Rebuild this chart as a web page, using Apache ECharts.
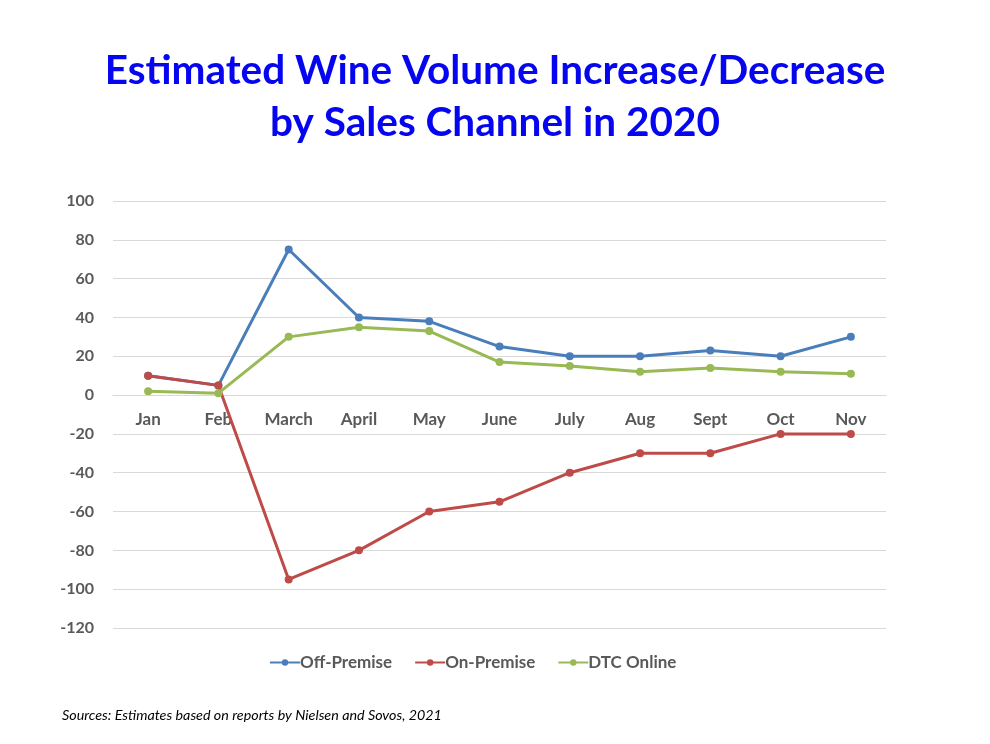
<!DOCTYPE html>
<html>
<head>
<meta charset="utf-8">
<script src="https://cdn.jsdelivr.net/npm/echarts@6/dist/echarts.min.js"></script>
<style>
  html, body { margin: 0; padding: 0; background: #fff; }
  #chart { width: 990px; height: 744px; }
</style>
</head>
<body>
<div id="chart"></div>
<script>
// Months of 2020
const months = ['Jan', 'Feb', 'March', 'April', 'May', 'June', 'July', 'Aug', 'Sept', 'Oct', 'Nov'];

// Estimated % change in wine volume per channel
const offPremise = [10, 5, 75, 40, 38, 25, 20, 20, 23, 20, 30];
const onPremise  = [10, 5, -95, -80, -60, -55, -40, -30, -30, -20, -20];
const dtcOnline  = [2, 1, 30, 35, 33, 17, 15, 12, 14, 12, 11];

const seriesNames = ['Off-Premise', 'On-Premise', 'DTC Online'];
const seriesColors = ['#4a7ebb', '#be4b48', '#98b954'];

const yMin = -120, yMax = 100, yStep = 20;

const gridTop = 201, gridBottom = 116, chartHeight = 744;
const plotHeight = chartHeight - gridTop - gridBottom;
// distance from the bottom of the plot to the zero line, so month labels sit on it
const zeroOffset = plotHeight * (0 - yMin) / (yMax - yMin);

const chart = echarts.init(document.getElementById('chart'), null, { renderer: 'canvas' });

const fontFamily = 'Lato, "Open Sans", sans-serif';

function lineSeries(name, data, color) {
  return {
    name: name,
    type: 'line',
    data: data,
    symbol: 'circle',
    symbolSize: 8,
    lineStyle: { color: color, width: 3 },
    itemStyle: { color: color },
    emphasis: { disabled: true },
    animation: false
  };
}

chart.setOption({
  backgroundColor: '#ffffff',
  animation: false,
  title: {
    text: 'Estimated Wine Volume Increase/Decrease\nby Sales Channel in 2020',
    left: 'center',
    top: 40,
    textStyle: {
      color: '#0505f0',
      fontFamily: fontFamily,
      fontWeight: 'bold',
      fontSize: 40.5,
      lineHeight: 52,
      align: 'center'
    }
  },
  grid: { left: 113, right: 104, top: gridTop, bottom: gridBottom },
  legend: {
    bottom: 68,
    left: 264,
    itemWidth: 30,
    itemHeight: 8,
    itemGap: 22,
    textStyle: { color: '#595959', fontFamily: fontFamily, fontWeight: 'bold', fontSize: 17, padding: [0, 0, 0, -5] },
    data: seriesNames
  },
  xAxis: {
    type: 'category',
    data: months,
    boundaryGap: true,
    position: 'bottom',
    offset: -zeroOffset,
    axisLine: { show: true, onZero: false, lineStyle: { color: '#d9d9d9', width: 1 } },
    axisTick: { show: false },
    axisLabel: { color: '#595959', fontFamily: fontFamily, fontWeight: 'bold', fontSize: 17, margin: 16 }
  },
  yAxis: {
    type: 'value',
    min: yMin,
    max: yMax,
    interval: yStep,
    axisLine: { show: false },
    axisTick: { show: false },
    axisLabel: { color: '#595959', fontFamily: fontFamily, fontWeight: 'bold', fontSize: 16, margin: 19 },
    splitLine: { lineStyle: { color: '#d9d9d9', width: 1 } }
  },
  graphic: [{
    type: 'text',
    left: 62,
    top: 708,
    style: {
      text: 'Sources: Estimates based on reports by Nielsen and Sovos, 2021',
      fill: '#000000',
      font: 'italic 14.3px ' + fontFamily
    }
  }],
  series: [
    lineSeries(seriesNames[0], offPremise, seriesColors[0]),
    lineSeries(seriesNames[1], onPremise, seriesColors[1]),
    lineSeries(seriesNames[2], dtcOnline, seriesColors[2])
  ]
});
</script>
</body>
</html>
